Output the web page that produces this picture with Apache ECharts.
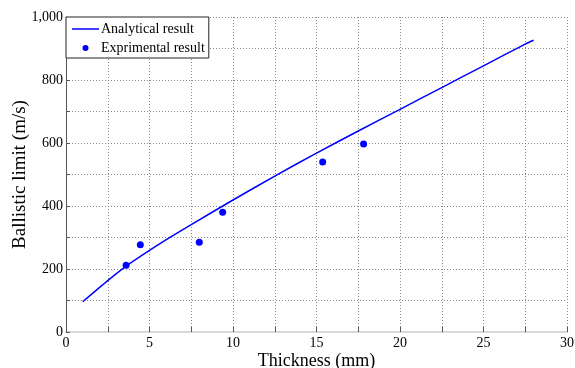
<!DOCTYPE html>
<html>
<head>
<meta charset="utf-8">
<script src="https://cdn.jsdelivr.net/npm/echarts@6/dist/echarts.min.js"></script>
<style>
html,body{margin:0;padding:0;background:#fff;}
#c{width:575px;height:368px;}
</style>
</head>
<body>
<div id="c"></div>
<script>
var analyticalThickness = [1, 2.5, 3.6, 5, 6.25, 7.5, 10, 12.5, 15, 17.5, 20, 22.5, 25, 27.5, 28];
var analyticalLimit = [96, 163, 209, 259, 301, 341, 419, 495, 568, 638, 707, 776, 845, 914, 926];
var expThickness = [3.6, 4.45, 7.98, 9.38, 15.37, 17.82];
var expLimit = [212, 277, 285, 380, 540, 597];
var seriesNames = ['Analytical result', 'Exprimental result'];
var xTitle = 'Thickness (mm)';
var yTitle = 'Ballistic limit (m/s)';

function pairs(xs, ys) { return xs.map(function (x, i) { return [x, ys[i]]; }); }

var font = 'Liberation Serif';
var chart = echarts.init(document.getElementById('c'), null, {renderer: 'canvas'});
chart.setOption({
  animation: false,
  backgroundColor: '#fff',
  textStyle: {fontFamily: font, color: '#000'},
  grid: {left: 66, right: 8, top: 17, bottom: 36, containLabel: false, outerBoundsMode: 'none'},
  legend: {
    left: 66, top: 17, orient: 'vertical',
    backgroundColor: '#fff', borderColor: '#222', borderWidth: 1, borderRadius: 0,
    padding: [5, 4, 3, 6],
    itemWidth: 27, itemHeight: 6, itemGap: 5,
    symbolKeepAspect: true,
    textStyle: {fontFamily: font, fontSize: 14, color: '#000', lineHeight: 14, padding: [0, 0, 0, -3]},
    data: [
      {name: seriesNames[0], icon: 'path://M0,0H27V1.5H0Z'},
      {name: seriesNames[1], icon: 'circle'}
    ]
  },
  xAxis: {
    type: 'value', min: 0, max: 30, interval: 2.5,
    name: xTitle, nameLocation: 'middle', nameGap: 20, nameMoveOverlap: false,
    nameTextStyle: {fontFamily: font, fontSize: 18, color: '#000'},
    axisLine: {show: true, onZero: false, lineStyle: {color: '#d8d8d8', width: 2}},
    axisTick: {show: true, inside: true, length: 5, lineStyle: {color: '#555'}},
    axisLabel: {
      margin: 4, fontFamily: font, fontSize: 14, color: '#000',
      formatter: function (v) { return v % 5 === 0 ? String(v) : ''; }
    },
    splitLine: {show: true, lineStyle: {type: [1, 2], color: '#888', width: 1}}
  },
  yAxis: {
    type: 'value', min: 0, max: 1000, interval: 100,
    name: yTitle, nameLocation: 'middle', nameGap: 36, nameRotate: 90, nameMoveOverlap: false,
    nameTextStyle: {fontFamily: font, fontSize: 19, color: '#000'},
    axisLine: {show: true, onZero: false, lineStyle: {color: '#555', width: 1}},
    axisTick: {show: true, inside: true, length: 4, lineStyle: {color: '#555'}},
    axisLabel: {
      margin: 3, fontFamily: font, fontSize: 14, color: '#000',
      formatter: function (v) { return v % 200 === 0 ? v.toLocaleString('en-US') : ''; }
    },
    splitLine: {show: true, lineStyle: {type: [1, 2], color: '#888', width: 1}}
  },
  series: [
    {
      name: seriesNames[0], type: 'line', symbol: 'none', smooth: 0.2,
      data: pairs(analyticalThickness, analyticalLimit),
      lineStyle: {color: '#0000ff', width: 1.5},
      itemStyle: {color: '#0000ff'},
      z: 3
    },
    {
      name: seriesNames[1], type: 'scatter', symbol: 'circle', symbolSize: 7,
      data: pairs(expThickness, expLimit),
      itemStyle: {color: '#0000ff', opacity: 1},
      z: 4
    }
  ]
});
</script>
</body>
</html>
